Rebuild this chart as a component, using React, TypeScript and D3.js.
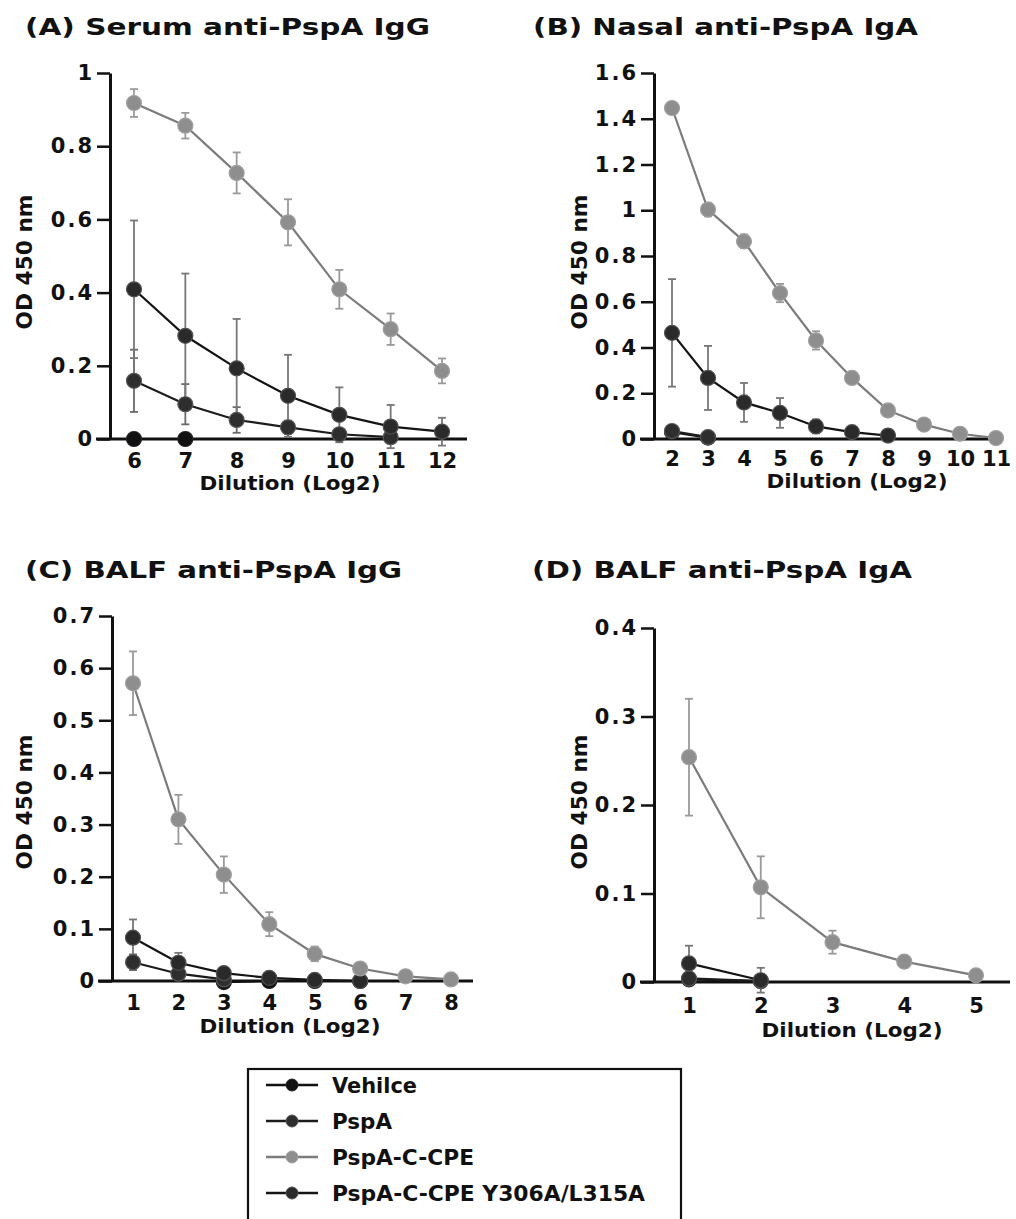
import React, { useRef, useEffect } from 'react';
import * as d3 from 'd3';

// ---- data ----
const dilutionA = [6, 7, 8, 9, 10, 11, 12];
const vehicleA = [0, 0, null, null, null, null, null];
const pspaA = [0.159, 0.095, 0.052, 0.032, 0.013, 0.005, null];
const pspaErrA = [0.085, 0.055, 0.035, 0.018, 0.012, 0.008, null];
const cpeA = [0.918, 0.856, 0.727, 0.592, 0.409, 0.300, 0.186];
const cpeErrA = [0.038, 0.035, 0.056, 0.063, 0.053, 0.043, 0.034];
const mutA = [0.409, 0.282, 0.193, 0.118, 0.066, 0.034, 0.020];
const mutErrA = [0.188, 0.170, 0.135, 0.112, 0.075, 0.059, 0.038];

const dilutionB = [2, 3, 4, 5, 6, 7, 8, 9, 10, 11];
const vehicleB = [0.03, 0.006, null, null, null, null, null, null, null, null];
const pspaB = [0.035, 0.008, null, null, null, null, null, null, null, null];
const pspaErrB = [0.008, 0.004, null, null, null, null, null, null, null, null];
const cpeB = [1.447, 1.003, 0.864, 0.638, 0.431, 0.267, 0.125, 0.063, 0.023, 0.004];
const cpeErrB = [0.02, 0.03, 0.03, 0.04, 0.04, 0.025, 0.015, 0.01, 0.008, 0.005];
const mutB = [0.464, 0.267, 0.160, 0.114, 0.055, 0.030, 0.015, null, null, null];
const mutErrB = [0.235, 0.14, 0.085, 0.065, 0.03, 0.015, 0.01, null, null, null];

const dilutionC = [1, 2, 3, 4, 5, 6, 7, 8];
const vehicleC = [null, null, -0.002, 0, 0, 0, null, null];
const pspaC = [0.036, 0.014, 0.003, null, null, null, null, null];
const pspaErrC = [0.015, 0.006, 0.003, null, null, null, null, null];
const cpeC = [0.571, 0.310, 0.204, 0.109, 0.052, 0.024, 0.009, 0.003];
const cpeErrC = [0.061, 0.047, 0.035, 0.023, 0.014, 0.006, 0.004, 0.003];
const mutC = [0.083, 0.035, 0.015, 0.006, 0.002, 0.0, null, null];
const mutErrC = [0.035, 0.019, 0.008, 0.004, 0.002, 0.001, null, null];

const dilutionD = [1, 2, 3, 4, 5];
const vehicleD = [0.003, 0.001, null, null, null];
const pspaD = [0.004, 0.001, null, null, null];
const pspaErrD = [0.002, 0.002, null, null, null];
const cpeD = [0.254, 0.107, 0.045, 0.023, 0.0075];
const cpeErrD = [0.066, 0.035, 0.013, 0.007, 0.003];
const mutD = [0.021, 0.002, null, null, null];
const mutErrD = [0.02, 0.014, null, null, null];

const legendLabels = ['Vehilce', 'PspA', 'PspA-C-CPE', 'PspA-C-CPE Y306A/L315A'];
const legendWidths = [85, 60, 142, 313];

const FONT = '"DejaVu Sans", Verdana, sans-serif';

const looks = {
  vehicle: { line: '#111', fill: '#111', stroke: '#222', err: '#333' },
  pspa: { line: '#1c1c1c', fill: '#2e2e2e', stroke: '#555', err: '#6a6a6a' },
  cpe: { line: '#7c7c7c', fill: '#8e8e8e', stroke: '#a0a0a0', err: '#9a9a9a' },
  mut: { line: '#141414', fill: '#2a2a2a', stroke: '#505050', err: '#777' },
};

const panels = [
  {
    title: '(A) Serum anti-PspA IgG', titleX: 25, titleY: 35, titleW: 405,
    dil: dilutionA, yMax: 1, yStep: 0.2,
    axisX: 110, top: 73, bottom: 439, xFirst: 134, xLast: 442, axisEnd: 467,
    xLabelPad: 14, xTitleX: 290, xTitleY: 490, yTitleX: 32, yTitleY: 262,
    series: [
      { key: 'vehicle', v: vehicleA, e: null },
      { key: 'pspa', v: pspaA, e: pspaErrA },
      { key: 'mut', v: mutA, e: mutErrA },
      { key: 'cpe', v: cpeA, e: cpeErrA },
    ],
  },
  {
    title: '(B) Nasal anti-PspA IgA', titleX: 533, titleY: 35, titleW: 385,
    dil: dilutionB, yMax: 1.6, yStep: 0.2,
    axisX: 654, top: 73, bottom: 439, xFirst: 672, xLast: 996, axisEnd: 1002,
    xLabelPad: 12, xTitleX: 857, xTitleY: 488, yTitleX: 587, yTitleY: 262,
    series: [
      { key: 'vehicle', v: vehicleB, e: null },
      { key: 'pspa', v: pspaB, e: pspaErrB },
      { key: 'mut', v: mutB, e: mutErrB },
      { key: 'cpe', v: cpeB, e: cpeErrB },
    ],
  },
  {
    title: '(C) BALF anti-PspA IgG', titleX: 25, titleY: 578, titleW: 377,
    dil: dilutionC, yMax: 0.7, yStep: 0.1,
    axisX: 112, top: 616, bottom: 981, xFirst: 133, xLast: 451, axisEnd: 473,
    xLabelPad: 14, xTitleX: 290, xTitleY: 1033, yTitleX: 32, yTitleY: 802,
    series: [
      { key: 'vehicle', v: vehicleC, e: null },
      { key: 'pspa', v: pspaC, e: pspaErrC },
      { key: 'mut', v: mutC, e: mutErrC },
      { key: 'cpe', v: cpeC, e: cpeErrC },
    ],
  },
  {
    title: '(D) BALF anti-PspA IgA', titleX: 532, titleY: 578, titleW: 380,
    dil: dilutionD, yMax: 0.4, yStep: 0.1,
    axisX: 654, top: 628, bottom: 982, xFirst: 689, xLast: 976, axisEnd: 1010,
    xLabelPad: 16, xTitleX: 852, xTitleY: 1037, yTitleX: 587, yTitleY: 802,
    series: [
      { key: 'vehicle', v: vehicleD, e: null },
      { key: 'pspa', v: pspaD, e: pspaErrD },
      { key: 'mut', v: mutD, e: mutErrD },
      { key: 'cpe', v: cpeD, e: cpeErrD },
    ],
  },
];

const R = 7.5;

// bold label in the figure's wide face, stretched to the measured width
const label = (sel, size, width) =>
  sel.attr('font-family', FONT).attr('font-weight', 'bold').attr('font-size', size).attr('fill', '#111')
    .attr('textLength', width).attr('lengthAdjust', 'spacingAndGlyphs');

const App = () => {
  const svgRef = useRef(null);

  useEffect(() => {
    const svg = d3.select(svgRef.current);
    svg.selectAll('*').remove();

    panels.forEach(p => {
      const g = svg.append('g');
      const x = d3.scaleLinear().domain([p.dil[0], p.dil[p.dil.length - 1]]).range([p.xFirst, p.xLast]);
      const y = d3.scaleLinear().domain([0, p.yMax]).range([p.bottom, p.top]);

      g.append('text').attr('x', p.titleX).attr('y', p.titleY).text(p.title)
        .call(label, 23, p.titleW);

      // x axis line (extends left by the tick length)
      g.append('line')
        .attr('x1', p.axisX - 14).attr('x2', p.axisEnd)
        .attr('y1', y(0)).attr('y2', y(0))
        .attr('stroke', '#111').attr('stroke-width', 3);

      const yTicks = d3.range(0, p.yMax + p.yStep / 2, p.yStep);
      const yAxis = d3.axisLeft(y)
        .tickValues(yTicks)
        .tickSize(13)
        .tickSizeOuter(0)
        .tickPadding(3)
        .tickFormat(d => String(+(+d).toFixed(1)));
      const ya = g.append('g').attr('transform', `translate(${p.axisX},0)`).call(yAxis);
      ya.select('.domain').attr('stroke', '#111').attr('stroke-width', 3);
      ya.selectAll('.tick line').attr('stroke', '#111').attr('stroke-width', 2.5);
      ya.selectAll('.tick text')
        .attr('font-family', FONT).attr('font-weight', 'bold').attr('font-size', 21)
        .attr('letter-spacing', 2).attr('fill', '#111');

      const xAxis = d3.axisBottom(x).tickValues(p.dil).tickSize(0).tickPadding(p.xLabelPad).tickFormat(d3.format('d'));
      const xa = g.append('g').attr('transform', `translate(0,${y(0)})`).call(xAxis);
      xa.select('.domain').remove();
      xa.selectAll('.tick text')
        .attr('font-family', FONT).attr('font-weight', 'bold').attr('font-size', 21).attr('fill', '#111');

      g.append('text')
        .attr('x', p.xTitleX).attr('y', p.xTitleY)
        .attr('text-anchor', 'middle')
        .text('Dilution (Log2)')
        .call(label, 20, 181);

      g.append('text')
        .attr('transform', `translate(${p.yTitleX},${p.yTitleY}) rotate(-90)`)
        .attr('text-anchor', 'middle')
        .text('OD 450 nm')
        .call(label, 21, 135);

      const pts = s => p.dil.map((d, i) => ({ d, v: s.v[i], e: s.e ? s.e[i] : null })).filter(q => q.v != null);

      // error bars
      p.series.forEach(s => {
        const look = looks[s.key];
        pts(s).filter(q => q.e != null && q.e > 0).forEach(q => {
          const eg = g.append('g').attr('stroke', look.err).attr('stroke-width', 1.8);
          eg.append('line').attr('x1', x(q.d)).attr('x2', x(q.d)).attr('y1', y(q.v - q.e)).attr('y2', y(q.v + q.e));
          eg.append('line').attr('x1', x(q.d) - 4).attr('x2', x(q.d) + 4).attr('y1', y(q.v + q.e)).attr('y2', y(q.v + q.e));
          eg.append('line').attr('x1', x(q.d) - 4).attr('x2', x(q.d) + 4).attr('y1', y(q.v - q.e)).attr('y2', y(q.v - q.e));
        });
      });

      const line = d3.line().x(q => x(q.d)).y(q => y(q.v));
      p.series.forEach(s => {
        const look = looks[s.key];
        g.append('path').datum(pts(s))
          .attr('fill', 'none').attr('stroke', look.line).attr('stroke-width', 2.2)
          .attr('d', line);
        g.selectAll(null).data(pts(s)).enter().append('circle')
          .attr('cx', q => x(q.d)).attr('cy', q => y(q.v)).attr('r', R)
          .attr('fill', look.fill).attr('stroke', look.stroke).attr('stroke-width', 1.2);
      });
    });

    // legend
    const lg = svg.append('g');
    lg.append('rect')
      .attr('x', 248).attr('y', 1069).attr('width', 433).attr('height', 220)
      .attr('fill', 'none').attr('stroke', '#111').attr('stroke-width', 2.2);
    const keys = ['vehicle', 'pspa', 'cpe', 'mut'];
    const rowY = d3.scalePoint().domain(keys).range([1085, 1193]);
    keys.forEach((k, i) => {
      const look = looks[k];
      const yy = rowY(k);
      lg.append('line').attr('x1', 266).attr('x2', 318).attr('y1', yy).attr('y2', yy)
        .attr('stroke', look.line).attr('stroke-width', 2.5);
      lg.append('circle').attr('cx', 292).attr('cy', yy).attr('r', 6)
        .attr('fill', look.fill).attr('stroke', look.stroke).attr('stroke-width', 1);
      lg.append('text').attr('x', 332).attr('y', yy + 7.5)
        .text(legendLabels[i])
        .call(label, 21, legendWidths[i]);
    });
  }, []);

  return (
    <svg
      ref={svgRef}
      width={1016}
      height={1219}
      style={{ position: 'absolute', left: 0, top: 0, background: '#fff' }}
    />
  );
};

export default App;
